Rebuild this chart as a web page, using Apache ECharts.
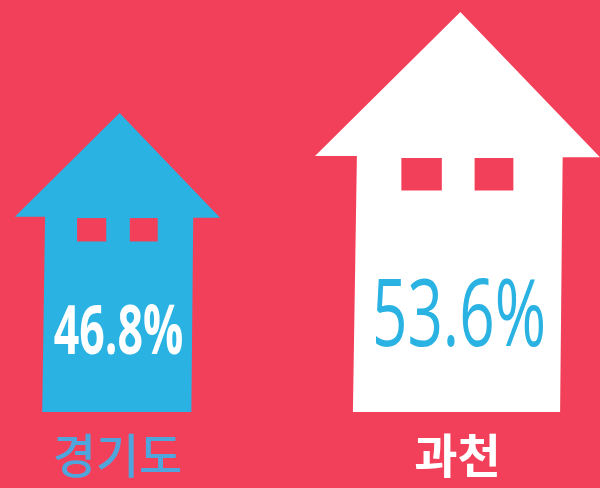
<!DOCTYPE html>
<html>
<head>
<meta charset="utf-8">
<style>html,body{margin:0;padding:0;background:#f3405a}#c{width:600px;height:488px}</style>
<script src="https://cdn.jsdelivr.net/npm/echarts@6/dist/echarts.min.js"></script>
</head>
<body>
<div id="c"></div>
<script>
const categories = ['경기도', '과천'];
const values = [46.8, 53.6];
const houseColors = ['#29b2e2', '#ffffff'];
const valueColors = ['#ffffff', '#29b2e2'];
const valueWeights = ['bold', 'normal'];
const labelColors = ['#4fa6dc', '#ffffff'];
const labelWeights = ['500', 'bold'];
const background = '#f3405a';
const axisMin = 26.67;
const axisMax = 54.41;

const chart = echarts.init(document.getElementById('c'), null, { renderer: 'canvas' });

function renderItem(params, api) {
  const i = params.dataIndex;
  const top = api.coord([i, api.value(1)]);
  const base = api.coord([i, axisMin]);
  const H = base[1] - top[1];
  const w = 0.79 * H - 31;
  const x0 = top[0] - w / 2;
  const y0 = top[1];
  const pt = (u, v) => [x0 + u * w, y0 + v * w];
  const bottom = (u) => [x0 + u * w, base[1]];
  const win = (u0, u1) => ({
    type: 'rect',
    shape: { x: x0 + u0 * w, y: y0 + 0.512 * w, width: (u1 - u0) * w, height: 0.114 * w },
    style: { fill: background }
  });
  const fontSize = 0.33 * w;
  return {
    type: 'group',
    children: [
      {
        type: 'polygon',
        shape: {
          points: [
            pt(0.51, 0), pt(1, 0.51), pt(0.869, 0.51),
            bottom(0.86), bottom(0.133), pt(0.147, 0.505), pt(0, 0.505)
          ]
        },
        style: { fill: houseColors[i] }
      },
      win(0.303, 0.445),
      win(0.56, 0.696),
      {
        type: 'text',
        x: x0 + 0.505 * w,
        y: y0 + 1.078 * w,
        scaleX: 0.66,
        style: {
          text: api.value(1).toFixed(1) + '%',
          x: 0, y: 0,
          fill: valueColors[i],
          align: 'center',
          verticalAlign: 'middle',
          fontFamily: '"Liberation Sans Narrow", "Open Sans", sans-serif',
          fontWeight: valueWeights[i],
          fontSize: fontSize
        }
      }
    ]
  };
}

chart.setOption({
  animation: false,
  backgroundColor: background,
  grid: { left: -52.5, width: 680, top: 0, height: 412, outerBoundsMode: 'none', containLabel: false },
  xAxis: {
    type: 'category',
    data: categories.map((c, i) => ({
      value: c,
      textStyle: { color: labelColors[i], fontWeight: labelWeights[i] }
    })),
    axisLine: { show: false },
    axisTick: { show: false },
    axisLabel: {
      interval: 0,
      margin: 20,
      fontSize: 47,
      fontFamily: '"Noto Sans CJK KR", sans-serif'
    }
  },
  yAxis: { type: 'value', min: axisMin, max: axisMax, show: false, splitLine: { show: false } },
  series: [{
    type: 'custom',
    clip: false,
    renderItem: renderItem,
    encode: { x: 0, y: 1 },
    data: values.map((v, i) => [i, v])
  }]
});
</script>
</body>
</html>
